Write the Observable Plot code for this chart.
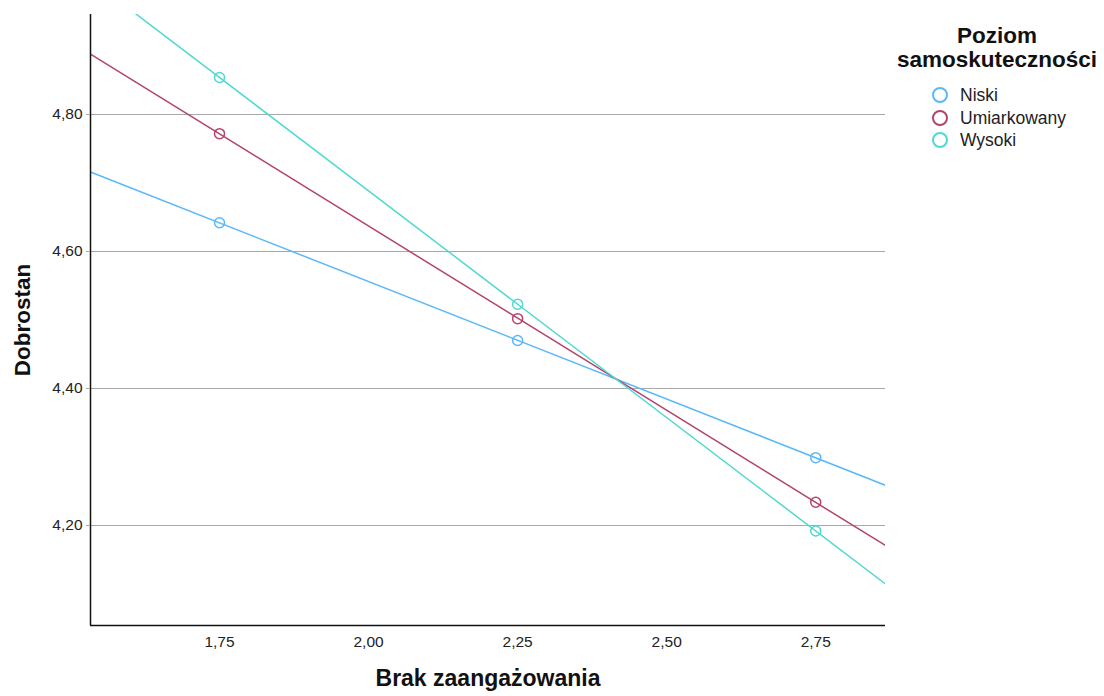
<!DOCTYPE html>
<html>
<head>
<meta charset="utf-8">
<script src="https://cdn.jsdelivr.net/npm/d3@7"></script>
<script src="https://cdn.jsdelivr.net/npm/@observablehq/plot@0.6"></script>
<style>
  body { margin: 0; background: #fff; font-family: "Liberation Sans", Arial, sans-serif; }
  #wrap { position: relative; width: 1104px; height: 696px; }
  #legend { position: absolute; left: 0; top: 0; width: 1104px; height: 696px; pointer-events: none; }
  #legend .title { position: absolute; left: 886px; width: 222px; font-weight: bold; font-size: 22.5px; text-align: center; line-height: 24px; color: #111; }
  #legend .sw { position: absolute; width: 16px; height: 16px; border-radius: 50%; border: 2px solid; box-sizing: border-box; }
  #legend .lab { position: absolute; font-size: 17.5px; color: #222; line-height: 20px; }
  g[aria-label$="tick label"] text { font-size: 15.5px !important; }
</style>
</head>
<body>
<div id="wrap"><div id="legend"></div></div>
<script>
// Data
const groups = ["Niski", "Umiarkowany", "Wysoki"];
const colors = ["#5ab8fa", "#b3446c", "#4fd8d2"];
const xValues = [1.75, 2.25, 2.75];
const niski = [4.642, 4.470, 4.299];
const umiarkowany = [4.772, 4.502, 4.234];
const wysoki = [4.854, 4.523, 4.192];
const xTicks = [1.75, 2.00, 2.25, 2.50, 2.75];
const yTicks = [4.20, 4.40, 4.60, 4.80];
const xDomain = [1.5336, 2.867];
const yDomain = [4.054, 4.946];

const seriesValues = [niski, umiarkowany, wysoki];
const points = [];
groups.forEach((g, i) => xValues.forEach((x, j) => points.push({group: g, x, y: seriesValues[i][j]})));

// Fitted lines (least squares) evaluated at the x domain edges
const lines = [];
groups.forEach((g, i) => {
  const ys = seriesValues[i];
  const mx = d3.mean(xValues), my = d3.mean(ys);
  const b = d3.sum(xValues, (x, k) => (x - mx) * (ys[k] - my)) / d3.sum(xValues, x => (x - mx) ** 2);
  const a = my - b * mx;
  xDomain.forEach(x => lines.push({group: g, x, y: a + b * x}));
});

const fmt = d => d.toFixed(2).replace(".", ",");

const chart = Plot.plot({
  width: 1104,
  height: 696,
  marginLeft: 90,
  marginRight: 219,
  marginTop: 14,
  marginBottom: 71,
  style: {fontFamily: "Liberation Sans, Arial, sans-serif", fontSize: "15.5px", color: "#222", background: "white"},
  x: {domain: xDomain, ticks: xTicks, tickFormat: fmt, tickSize: 0, tickPadding: 10, label: null},
  y: {domain: yDomain, ticks: yTicks, tickFormat: fmt, tickSize: 4, tickPadding: 4, label: null},
  color: {domain: groups, range: colors},
  marks: [
    Plot.ruleY(yTicks, {stroke: "#a8a8a8", strokeWidth: 1}),
    Plot.line(lines, {x: "x", y: "y", z: "group", stroke: "group", strokeWidth: 1.5, clip: true}),
    Plot.dot(points, {x: "x", y: "y", stroke: "group", r: 5, strokeWidth: 1.5, fill: "none"}),
    Plot.ruleX([xDomain[0]], {stroke: "#111", strokeWidth: 1.5}),
    Plot.ruleY([yDomain[0]], {stroke: "#111", strokeWidth: 1.5}),
    Plot.axisX({ticks: xTicks, tickFormat: fmt, tickSize: 0, tickPadding: 10, label: null}),
    Plot.axisY({ticks: yTicks, tickFormat: fmt, tickSize: 4, tickPadding: 4, stroke: "#a8a8a8", label: null}),
    Plot.text(["Brak zaangażowania"], {frameAnchor: "bottom", dy: 60, fontSize: 23, fontWeight: "bold", fill: "#111"}),
    Plot.text(["Dobrostan"], {frameAnchor: "left", textAnchor: "middle", dx: -68, rotate: -90, fontSize: 22.5, fontWeight: "bold", fill: "#111"})
  ]
});
document.getElementById("wrap").prepend(chart);
chart.style.position = "absolute";
chart.style.left = "0";
chart.style.top = "0";

const legend = document.getElementById("legend");
let html = `<div class="title" style="top:24px">Poziom</div><div class="title" style="top:48px">samoskuteczności</div>`;
groups.forEach((g, i) => {
  const cy = 95 + i * 22.5;
  html += `<span class="sw" style="left:932px;top:${cy - 8}px;border-color:${colors[i]}"></span>`;
  html += `<span class="lab" style="left:960px;top:${cy - 10}px">${g}</span>`;
});
legend.innerHTML = html;
</script>
</body>
</html>
